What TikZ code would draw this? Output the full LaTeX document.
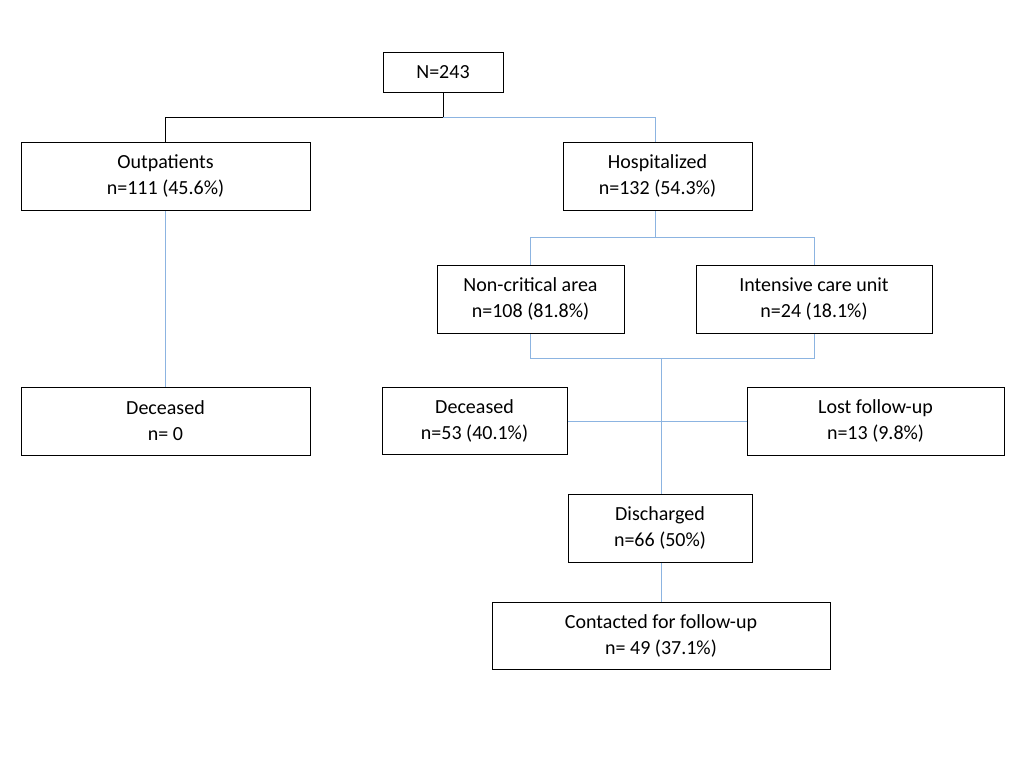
\documentclass[tikz,border=0pt]{standalone}
\usepackage{fontspec}
\setmainfont{Carlito}
\definecolor{ln}{RGB}{140,180,225}
\begin{document}
\begin{tikzpicture}[x=1pt,y=-1pt]
\tikzset{bx/.style={draw,thick,fill=white,align=center,font=\fontsize{20}{26}\selectfont,inner sep=0pt},
con/.style={ln,line width=0.9pt}}
\useasboundingbox (0,0) rectangle (1024,768);
\newcommand\bxx[6]{\node[bx,minimum width=#4-#2,minimum height=#5-#3] (#1) at ({(#2+#4)/2},{(#3+#5)/2}) {#6};}
% connectors
\draw[line width=0.9pt] (443,92) -- (443,117) -- (165,117) -- (165,142);
\draw[con] (443,117) -- (655,117) -- (655,142);
\draw[con] (165,210) -- (165,387);
\draw[con] (655,210) -- (655,237) -- (530,237) -- (530,265);
\draw[con] (655,237) -- (814,237) -- (814,265);
\draw[con] (530,333) -- (530,358) -- (814,358) -- (814,333);
\draw[con] (661,358) -- (661,494);
\draw[con] (567,421) -- (747,421);
\draw[con] (661,562) -- (661,602);
\bxx{n}{383}{52}{503}{92}{N=243}
\bxx{out}{21}{142}{310}{210}{Outpatients\\n=111 (45.6\%)}
\bxx{hosp}{563}{142}{752}{210}{Hospitalized\\n=132 (54.3\%)}
\bxx{nc}{437}{265}{624}{333}{Non-critical area\\n=108 (81.8\%)}
\bxx{icu}{696}{265}{932}{333}{Intensive care unit\\n=24 (18.1\%)}
\bxx{d1}{21}{387}{310}{455}{Deceased\\n= 0}
\bxx{d2}{382}{387}{567}{454}{Deceased\\n=53 (40.1\%)}
\bxx{lost}{747}{387}{1004}{455}{Lost follow-up\\n=13 (9.8\%)}
\bxx{dis}{568}{494}{752}{562}{Discharged\\n=66 (50\%)}
\bxx{con}{492}{602}{830}{669}{Contacted for follow-up\\n= 49 (37.1\%)}
\end{tikzpicture}
\end{document}
